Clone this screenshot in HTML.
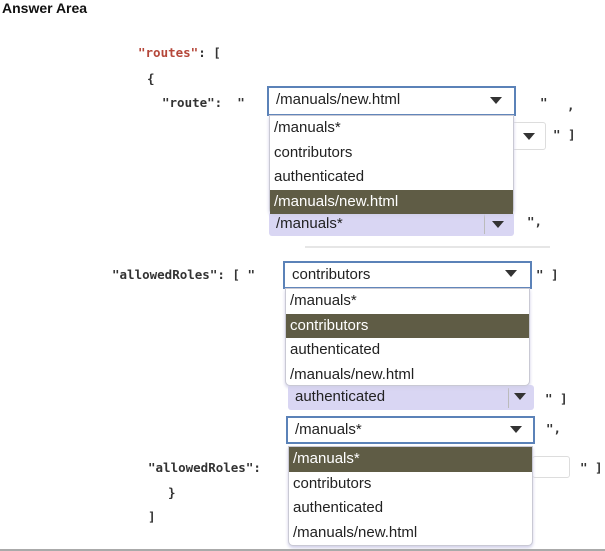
<!DOCTYPE html>
<html><head><meta charset="utf-8"><style>
*{margin:0;padding:0;box-sizing:border-box}
body{width:605px;height:551px;background:#fff;position:relative;overflow:hidden;font-family:"Liberation Sans",sans-serif;color:#222}
.a{position:absolute;white-space:nowrap}
.m{font-family:"DejaVu Sans Mono","Liberation Mono",monospace;font-size:12.5px;font-weight:bold;color:#333}
.box{position:absolute;background:#fff;border:2px solid #5b82b8;font-size:15px;padding-left:7px;line-height:24px}
.lav{position:absolute;background:#d9d6f3;font-size:15px;padding-left:7px;line-height:23px;border-radius:3px}
.list{position:absolute;background:#fff;border:1px solid #c9c9d4;border-radius:0 0 5px 5px;box-shadow:0 2px 3px #d0cfe8;font-size:15px}
.list div{height:24.5px;line-height:24px;padding-left:4px}
.sel{background:#5f5c45;color:#fff}
.arr{position:absolute;width:0;height:0;border-left:6px solid transparent;border-right:6px solid transparent;border-top:7px solid #333}
.sep{position:absolute;width:1px;background:#bbb}
</style></head><body>
<div class="a" style="left:2px;top:0;font-size:14px;font-weight:bold;color:#111">Answer Area</div>

<div class="a m" style="left:138px;top:45px"><span style="color:#b5473a">"routes"</span>: [</div>
<div class="a m" style="left:147px;top:71px">{</div>
<div class="a m" style="left:162px;top:95px">"route":&nbsp; "</div>

<!-- behind box 1 -->
<div class="a" style="left:510px;top:122px;width:36px;height:28px;border:1px solid #ddd;border-radius:3px"></div>
<div class="arr" style="left:523px;top:133px"></div>
<div class="a m" style="left:553px;top:127px">" ]</div>

<div class="box" style="left:267px;top:86px;width:249px;height:30px">/manuals/new.html</div>
<div class="arr" style="left:490px;top:97px"></div>
<div class="a m" style="left:540px;top:95px">"</div>
<div class="a m" style="left:567px;top:98px">,</div>

<div class="lav" style="left:269px;top:212px;width:245px;height:24px">/manuals*</div>
<div class="sep" style="left:484px;top:214px;height:20px"></div>
<div class="arr" style="left:492px;top:221px"></div>
<div class="a m" style="left:527px;top:214px">",</div>

<div class="list" style="left:269px;top:115px;width:245px;height:99px">
<div>/manuals*</div><div>contributors</div><div>authenticated</div><div class="sel">/manuals/new.html</div></div>

<div class="a" style="left:305px;top:246px;width:245px;height:2px;background:#e6e6e6"></div>

<div class="a m" style="left:112px;top:267px">"allowedRoles": [ "</div>
<div class="box" style="left:283px;top:261px;width:249px;height:28px">contributors</div>
<div class="arr" style="left:505px;top:270px"></div>
<div class="a m" style="left:536px;top:267px">" ]</div>

<div class="lav" style="left:288px;top:385px;width:246px;height:25px">authenticated</div>
<div class="sep" style="left:508px;top:388px;height:20px"></div>
<div class="arr" style="left:514px;top:393px"></div>
<div class="a m" style="left:545px;top:391px">" ]</div>

<div class="list" style="left:285px;top:288px;width:245px;height:98px">
<div>/manuals*</div><div class="sel">contributors</div><div>authenticated</div><div>/manuals/new.html</div></div>

<div class="box" style="left:286px;top:416px;width:249px;height:28px">/manuals*</div>
<div class="arr" style="left:510px;top:426px"></div>
<div class="a m" style="left:546px;top:421px">",</div>

<div class="a m" style="left:148px;top:460px">"allowedRoles":</div>
<div class="a" style="left:532px;top:456px;width:38px;height:22px;border:1px solid #ddd;border-radius:3px"></div>
<div class="a m" style="left:580px;top:460px">" ]</div>
<div class="a m" style="left:168px;top:485px">}</div>
<div class="a m" style="left:148px;top:509px">]</div>

<div class="list" style="left:288px;top:446px;width:245px;height:100px">
<div class="sel">/manuals*</div><div>contributors</div><div>authenticated</div><div>/manuals/new.html</div></div>

<div class="a" style="left:0;top:549px;width:605px;height:2px;background:#aaa"></div>
</body></html>
